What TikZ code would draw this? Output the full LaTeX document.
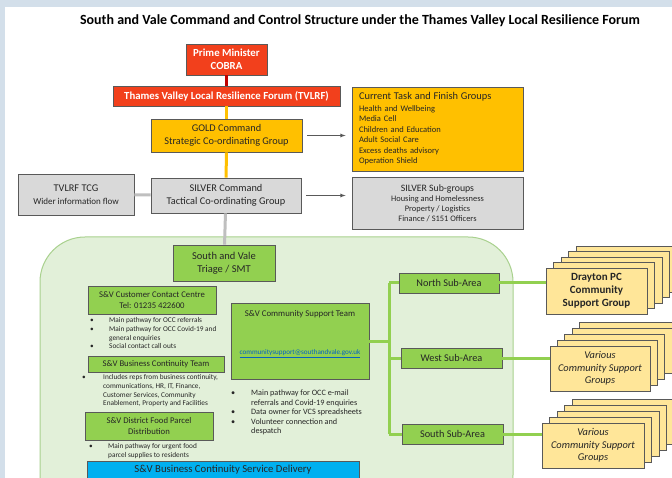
\documentclass[tikz,border=0pt]{standalone}
\usepackage{fontspec}
\setmainfont{Carlito}
\usetikzlibrary{positioning}

\definecolor{pmred}{HTML}{F2401C}
\definecolor{darkred}{HTML}{C00000}
\definecolor{goldfill}{HTML}{FFC000}
\definecolor{silverfill}{HTML}{D9D9D9}
\definecolor{silverline}{HTML}{BFBFBF}
\definecolor{greenfill}{HTML}{92D050}
\definecolor{regionfill}{HTML}{E2F0D9}
\definecolor{regionline}{HTML}{A9D18E}
\definecolor{stackfill}{HTML}{FFE699}
\definecolor{bluefill}{HTML}{00B0F0}
\definecolor{boxline}{HTML}{595959}
\definecolor{boxtext}{HTML}{262626}
\definecolor{linkblue}{HTML}{0563C1}
\definecolor{frame}{HTML}{D3DFEA}

\newcommand{\bul}[1][14pt]{\makebox[#1][l]{\textbullet}}
\newcommand{\ind}[1][14pt]{\hspace*{#1}}

\tikzset{
  box/.style={draw=boxline, line width=0.8pt, inner sep=0pt, align=center,
    text=boxtext, font=\fontsize{10.3}{12.5}\selectfont},
  redbox/.style={box, fill=pmred, text=white, font=\bfseries\fontsize{10.8}{12.5}\selectfont},
  goldbox/.style={box, fill=goldfill},
  silverbox/.style={box, fill=silverfill},
  greenbox/.style={box, fill=greenfill},
  stackbox/.style={draw=boxline, line width=0.8pt, fill=stackfill},
  notes/.style={anchor=north west, inner sep=0pt, align=left, text=boxtext,
    font=\fontsize{7.3}{8.7}\selectfont},
  arrowline/.style={draw=boxline, line width=0.8pt, -latex},
  tree/.style={draw=greenfill, line width=3pt},
}

\begin{document}
\begin{tikzpicture}[x=1pt, y=-1pt]
    \path[use as bounding box, clip] (0,0) rectangle (672,478);
    % page frame
    \fill[white] (0,0) rectangle (672,478);
    \fill[frame] (0,0) rectangle (672,7);
    \fill[frame] (0,0) rectangle (5,478);

    \node[font=\bfseries\fontsize{14}{16}\selectfont] (title) at (360,21)
      {South and Vale Command and Control Structure under the Thames Valley Local Resilience Forum};

    % green area
    \draw[fill=regionfill, draw=regionline, line width=1pt, rounded corners=45]
      (40,237) rectangle (513,520);

    % Define nodes
    \node[redbox, minimum width=81, minimum height=31] (pm) at (226.5,59.5) {Prime Minister\\COBRA};
    \node[redbox, minimum width=227, minimum height=20] (tvlrf) at (226.5,96)
      {Thames Valley Local Resilience Forum (TVLRF)};
    \node[goldbox, minimum width=151, minimum height=33] (gold) at (226.5,135.5)
      {GOLD Command\\Strategic Co-ordinating Group};
    \node[goldbox, minimum width=171, minimum height=84, text width=157, align=left,
      font=\fontsize{8.5}{10.5}\selectfont] (tasks) at (437.5,129)
      {{\fontsize{10.4}{12}\selectfont Current Task and Finish Groups}\\[1pt]
       Health and Wellbeing\\Media Cell\\Children and Education\\Adult Social Care\\
       Excess deaths advisory\\Operation Shield};
    \node[silverbox, minimum width=116, minimum height=41] (tcg) at (76,194.5)
      {TVLRF TCG\\{\fontsize{9}{11}\selectfont Wider information flow}};
    \node[silverbox, minimum width=150, minimum height=35] (silver) at (226,195.5)
      {SILVER Command\\Tactical Co-ordinating Group};
    \node[silverbox, minimum width=171, minimum height=52, font=\fontsize{8.4}{10}\selectfont]
      (subgroups) at (437.5,203)
      {{\fontsize{9.8}{12}\selectfont SILVER Sub-groups}\\Housing and Homelessness\\
       Property / Logistics\\Finance / S151 Officers};

    \node[greenbox, minimum width=102, minimum height=36, font=\fontsize{10.5}{13}\selectfont]
      (triage) at (224,263) {South and Vale\\Triage / SMT};
    \node[greenbox, minimum width=128, minimum height=28, font=\fontsize{8.7}{11}\selectfont]
      (contact) at (152,300) {S\&V Customer Contact Centre\\Tel: 01235 422600};
    \node[notes] (contactnotes) at (90,317.5)
      {\bul[19pt]Main pathway for OCC referrals\\\bul[19pt]Main pathway for OCC Covid-19 and\\
       \ind[19pt]general enquiries\\\bul[19pt]Social contact call outs};
    \node[greenbox, minimum width=136, minimum height=16, font=\fontsize{8.7}{11}\selectfont]
      (bct) at (156,364) {S\&V Business Continuity Team};
    \node[notes] (bctnotes) at (82,374.5)
      {\bul[21pt]Includes reps from business continuity,\\\ind[21pt]communications, HR, IT, Finance,\\
       \ind[21pt]Customer Services, Community\\\ind[21pt]Enablement, Property and Facilities};
    \node[greenbox, minimum width=128, minimum height=28, font=\fontsize{8.7}{11}\selectfont]
      (food) at (149,426) {S\&V District Food Parcel\\Distribution};
    \node[notes] (foodnotes) at (89,443.5)
      {\bul[19pt]Main pathway for urgent food\\\ind[19pt]parcel supplies to residents};
    \node[box, fill=bluefill, minimum width=272, anchor=north, inner ysep=3pt,
      text height=8pt, text depth=18pt, font=\fontsize{10.7}{12}\selectfont]
      (bcsd) at (223,461) {S\&V Business Continuity Service Delivery};

    \node[greenbox, minimum width=138, minimum height=76,
      label={[anchor=north, yshift=-4.5pt, font=\fontsize{8.8}{10}\selectfont, text=boxtext]north:S\&V Community Support Team}]
      (cst) at (300,341) {};
    \node[text=linkblue, inner sep=0pt, font=\fontsize{7.1}{8}\selectfont] (cstmail) at (300,354)
      {\underline{communitysupport@southandvale.gov.uk}};
    \node[notes, font=\fontsize{8.2}{9.4}\selectfont] (cstnotes) at (231,390)
      {\bul[20pt]Main pathway for OCC e-mail\\\ind[20pt]referrals and Covid-19 enquiries\\
       \bul[20pt]Data owner for VCS spreadsheets\\\bul[20pt]Volunteer connection and\\\ind[20pt]despatch};

    \node[greenbox, minimum width=100, minimum height=20, font=\fontsize{10.3}{12}\selectfont]
      (north) at (449,283) {North Sub-Area};
    \node[greenbox, minimum width=101, minimum height=20, font=\fontsize{10.3}{12}\selectfont]
      (west) at (451.5,358) {West Sub-Area};
    \node[greenbox, minimum width=101, minimum height=20, font=\fontsize{10.3}{12}\selectfont]
      (south) at (452.5,434) {South Sub-Area};

    % stacked community groups
    \foreach \k in {4,3,2,1} {
      \draw[stackbox] (546+7.5*\k,268-5.5*\k) rectangle ++(101,46);
      \draw[stackbox] (550+7.3*\k,346-5.8*\k) rectangle ++(100,45);
      \draw[stackbox] (542+7.5*\k,423-5.8*\k) rectangle ++(102,45);
    }
    \node[box, fill=stackfill, minimum width=101, minimum height=46,
      font=\bfseries\fontsize{11}{13}\selectfont] (drayton) at (596.5,291)
      {Drayton PC\\Community\\Support Group};
    \node[box, fill=stackfill, minimum width=100, minimum height=45,
      font=\itshape\fontsize{10.4}{12.5}\selectfont] (various1) at (600,368.5)
      {Various\\Community Support\\Groups};
    \node[box, fill=stackfill, minimum width=102, minimum height=45,
      font=\itshape\fontsize{10.4}{12.5}\selectfont] (various2) at (593,445.5)
      {Various\\Community Support\\Groups};

    % Draw edges
    \draw[darkred, line width=3pt] (pm) -- (tvlrf);
    \draw[goldfill, line width=3pt] (tvlrf) -- (gold);
    \draw[goldfill, line width=3pt] (gold) -- (silver);
    \draw[silverline, line width=3pt] (tcg) -- (silver);
    \draw[silverline, line width=3pt] (silver) -- (triage);
    \draw[arrowline, shorten <=5pt, shorten >=6pt] (gold.east) -- (gold.east -| tasks.west);
    \draw[arrowline, shorten <=5pt, shorten >=6pt] (silver.east) -- (silver.east -| subgroups.west);

    \coordinate (spine) at (389,0);
    \draw[tree] (cst.east) -- (cst.east -| spine);
    \draw[tree] (spine |- north) -- (spine |- south);
    \draw[tree] (spine |- north) -- (north);
    \draw[tree] (spine |- west) -- (west);
    \draw[tree] (spine |- south) -- (south);
    \draw[tree] (north) -- (north -| drayton.west);
    \draw[tree] (west) -- (west -| various1.west);
    \draw[tree] (south) -- (south -| various2.west);

\end{tikzpicture}
\end{document}
